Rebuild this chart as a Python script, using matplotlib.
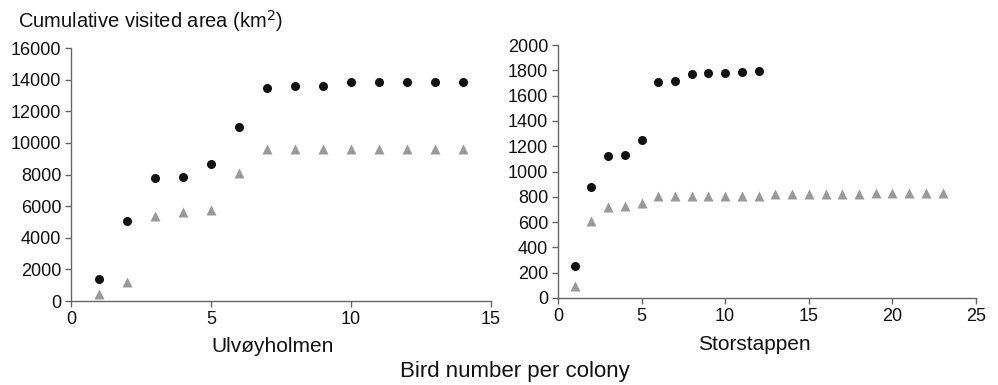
import matplotlib
matplotlib.use("Agg")
import matplotlib.pyplot as plt

plt.rcParams['font.family'] = ['Liberation Sans', 'DejaVu Sans']

# Ulvøyholmen
ulv_birds = [1, 2, 3, 4, 5, 6, 7, 8, 9, 10, 11, 12, 13, 14]
ulv_circle = [1380, 5090, 7810, 7870, 8700, 11020, 13470, 13580, 13580, 13830, 13830, 13830, 13830, 13830]
ulv_triangle = [440, 1180, 5380, 5640, 5760, 8090, 9600, 9600, 9600, 9600, 9600, 9600, 9600, 9600]

# Storstappen
sto_birds_circle = [1, 2, 3, 4, 5, 6, 7, 8, 9, 10, 11, 12]
sto_circle = [250, 880, 1120, 1128, 1248, 1710, 1718, 1770, 1776, 1776, 1786, 1794]
sto_birds_triangle = list(range(1, 24))
sto_triangle = [92, 610, 720, 726, 755, 810, 810, 810, 810, 810, 810, 810,
                820, 820, 820, 820, 820, 820, 828, 828, 828, 828, 828]

fig = plt.figure(figsize=(9.98, 3.85), dpi=100)
ax1 = fig.add_axes([0.0711, 0.218, 0.421, 0.657])
ax2 = fig.add_axes([0.559, 0.226, 0.419, 0.657])

spine_col = '#666666'
for ax in (ax1, ax2):
    for s in ('top', 'right'):
        ax.spines[s].set_visible(False)
    for s in ('left', 'bottom'):
        ax.spines[s].set_color(spine_col)
        ax.spines[s].set_linewidth(1.0)
    ax.tick_params(direction='out', length=4, width=1.0, color=spine_col,
                   labelsize=13, labelcolor='#111111', pad=3)

ax1.plot(ulv_birds, ulv_circle, 'o', color='#111111', ms=6.5, mec='none')
ax1.plot(ulv_birds, ulv_triangle, '^', color='#999999', ms=6.5, mec='none')
ax1.set_xlim(0, 15)
ax1.set_ylim(0, 16000)
ax1.set_xticks([0, 5, 10, 15])
ax1.set_yticks(range(0, 16001, 2000))

ax2.plot(sto_birds_circle, sto_circle, 'o', color='#111111', ms=6.5, mec='none')
ax2.plot(sto_birds_triangle, sto_triangle, '^', color='#999999', ms=6.5, mec='none')
ax2.set_xlim(0, 25)
ax2.set_ylim(0, 2000)
ax2.set_xticks([0, 5, 10, 15, 20, 25])
ax2.set_yticks(range(0, 2001, 200))

txt = '#111111'
fig.text(0.273, 0.099, 'Ulvøyholmen', fontsize=15, color=txt, ha='center', va='center')
fig.text(0.756, 0.104, 'Storstappen', fontsize=15, color=txt, ha='center', va='center')
fig.text(0.018, 0.945, 'Cumulative visited area (km$^2$)', fontsize=14.5,
         color=txt, va='center', ha='left')
fig.text(0.516, 0.036, 'Bird number per colony', fontsize=16,
         color=txt, va='center', ha='center')

fig.savefig('out.png', dpi=100)
